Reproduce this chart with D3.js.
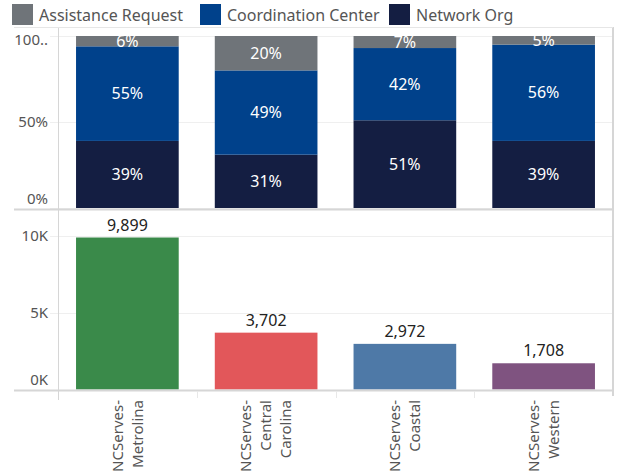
<!DOCTYPE html>
<html><head><meta charset="utf-8">
<script src="https://cdn.jsdelivr.net/npm/d3@7"></script>
<style>
body{margin:0;background:#fff;}
svg text{font-family:"Noto Sans",sans-serif;}
</style></head>
<body><svg id="c" width="623" height="476"></svg>
<script>
const categories = ["NCServes-Metrolina","NCServes-Central Carolina","NCServes-Coastal","NCServes-Western"];
const seriesNames = ["Network Org","Coordination Center","Assistance Request"];
const networkOrg = [39,31,51,39];
const coordinationCenter = [55,49,42,56];
const assistanceRequest = [6,20,7,5];
const totals = [9899,3702,2972,1708];
const pctTicks = [0,50,100];
const pctTickLabels = ["0%","50%","100.."];
const countTicks = [0,5000,10000];
const countTickLabels = ["0K","5K","10K"];
const legendOrder = ["Assistance Request","Coordination Center","Network Org"];

const seriesColors = {"Network Org":"#141e42","Coordination Center":"#00418b","Assistance Request":"#6f7479"};
const barColors = ["#3a8a4a","#e2575a","#4e79a7","#7f5380"];

const svg = d3.select("#c");
const L = 58, R = 613;
const x = d3.scaleBand().domain(categories).range([L,R]).paddingInner(0.26).paddingOuter(0.13);
const xh = d3.scaleBand().domain(categories).range([L,R]);
const yTop = d3.scaleLinear().domain([0,100]).range([208,36]);
const yBot = d3.scaleLinear().domain([0,11690]).range([389.5,210]);

function grid(scale, ticks){
  svg.append("g").selectAll("line").data(ticks).join("line")
    .attr("x1",50).attr("x2",R).attr("y1",d=>Math.round(scale(d))+0.5).attr("y2",d=>Math.round(scale(d))+0.5)
    .attr("stroke","#efefef").attr("stroke-width",1);
}
grid(yTop,pctTicks);
grid(yBot,countTicks);

const rows = categories.map((c,i)=>({cat:c,"Network Org":networkOrg[i],"Coordination Center":coordinationCenter[i],"Assistance Request":assistanceRequest[i]}));
const stack = d3.stack().keys(seriesNames)(rows);
const gs = svg.append("g").selectAll("g").data(stack).join("g").attr("fill",d=>seriesColors[d.key]);
gs.selectAll("rect").data(d=>d).join("rect")
  .attr("x",d=>x(d.data.cat)).attr("width",x.bandwidth())
  .attr("y",d=>yTop(d[1])).attr("height",d=>yTop(d[0])-yTop(d[1]));
const gl = svg.append("g");
stack.forEach(s=>{
  gl.selectAll(null).data(s).join("text")
    .attr("x",d=>x(d.data.cat)+x.bandwidth()/2)
    .attr("y",d=>(yTop(d[0])+yTop(d[1]))/2)
    .attr("dy","0.35em").attr("text-anchor","middle").attr("fill","#fff").attr("font-size",16)
    .text(d=>(d[1]-d[0])+"%");
});

svg.append("g").selectAll("rect").data(categories).join("rect")
  .attr("x",d=>x(d)).attr("width",x.bandwidth())
  .attr("y",(d,i)=>yBot(totals[i])).attr("height",(d,i)=>yBot(0)-yBot(totals[i]))
  .attr("fill",(d,i)=>barColors[i]);
svg.append("g").selectAll("text").data(categories).join("text")
  .attr("x",d=>x(d)+x.bandwidth()/2).attr("y",(d,i)=>yBot(totals[i])-7)
  .attr("text-anchor","middle").attr("fill","#222").attr("font-size",16)
  .text((d,i)=>d3.format(",")(totals[i]));

const frame = svg.append("g").attr("stroke","#d6d6d6").attr("fill","none");
frame.append("line").attr("x1",L+0.5).attr("x2",L+0.5).attr("y1",27).attr("y2",400);
frame.append("line").attr("x1",R).attr("x2",R).attr("y1",27).attr("y2",396).attr("stroke-width",2);
frame.append("line").attr("x1",14).attr("x2",R).attr("y1",27.5).attr("y2",27.5).attr("stroke","#e6e6e6");
frame.append("line").attr("x1",14).attr("x2",R+1).attr("y1",209.5).attr("y2",209.5).attr("stroke-width",2);
frame.append("line").attr("x1",14).attr("x2",R+1).attr("y1",390.5).attr("y2",390.5).attr("stroke-width",2);
svg.append("g").selectAll("line").data(categories.slice(1)).join("line")
  .attr("x1",d=>Math.round(xh(d))+0.5).attr("x2",d=>Math.round(xh(d))+0.5).attr("y1",391).attr("y2",398)
  .attr("stroke","#e8e8e8");

function yLabels(scale, ticks, labels, lo, hi){
  svg.append("g").selectAll("text").data(ticks).join("text")
    .attr("x",48).attr("text-anchor","end").attr("fill","#555").attr("font-size",15)
    .attr("y",(d)=>{const v=scale(d); return Math.min(Math.max(v,lo+8),hi-8);})
    .attr("dy","0.35em")
    .text((d,i)=>labels[i]);
}
yLabels(yTop,pctTicks,pctTickLabels,32,207);
yLabels(yBot,countTicks,countTickLabels,210,388);

const xl = svg.append("g").selectAll("text").data(categories).join("text")
  .attr("transform",d=>`translate(${xh(d)+xh.bandwidth()/2},400) rotate(-90)`)
  .attr("text-anchor","end").attr("fill","#555").attr("font-size",15);
xl.each(function(d){
  const parts = d.replace("-","-|").replace(" ","|").split("|");
  const n = parts.length, lh = 20;
  d3.select(this).selectAll("tspan").data(parts).join("tspan")
    .attr("x",0).attr("y",(p,j)=>(j-(n-1)/2)*lh).attr("dy","0.35em").text(p=>p);
});

const lg = svg.append("g");
const legX = [12,200,389];
legendOrder.forEach((k,i)=>{
  lg.append("rect").attr("x",legX[i]).attr("y",4).attr("width",21).attr("height",21).attr("fill",seriesColors[k]);
  lg.append("text").attr("x",legX[i]+27).attr("y",15).attr("dy","0.35em").attr("fill","#555").attr("font-size",16).text(k);
});
</script></body></html>
